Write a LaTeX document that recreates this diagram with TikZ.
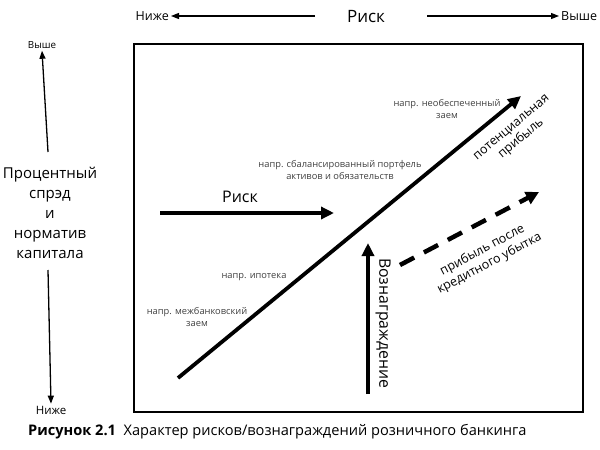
\documentclass[tikz,border=0pt]{standalone}
\usepackage{fontspec}
\setmainfont{Open Sans}
\usetikzlibrary{arrows.meta}
\begin{document}
\begin{tikzpicture}[x=1pt,y=-1pt,
  thinarr/.style={line width=1.3pt,-{Triangle[length=8pt,width=6pt]}},
  thickarr/.style={line width=3.8pt,-{Triangle[length=13pt,width=12pt]}},
  dasharr/.style={line width=4.5pt,dash pattern=on 16pt off 11pt,-{Triangle[length=13pt,width=13pt]}},
  small/.style={font=\fontsize{9.3}{12.5}\selectfont,text=black!75,align=center,inner sep=1pt},
  big/.style={font=\fontsize{15}{20}\selectfont,align=center,inner sep=1pt},
  mid/.style={font=\fontsize{12.5}{15}\selectfont,align=center,inner sep=0pt},
  tiny/.style={font=\fontsize{12.5}{13}\selectfont,inner sep=2pt}]
\useasboundingbox (0,0) rectangle (600,450);
\fill[white] (0,0) rectangle (600,450);
% top axis
\node[big,font=\fontsize{17}{18}\selectfont] (riskT) at (366,17) {Риск};
\node[tiny,anchor=east] (lowT) at (171,16) {Ниже};
\node[tiny,anchor=west] (highT) at (559,16) {Выше};
\coordinate (la) at (315,16);
\coordinate (ra) at (427,16);
\draw[thinarr] (la) -- (lowT.east);
\draw[thinarr] (ra) -- (highT.west);
% frame
\node[draw,line width=1.4pt,minimum width=449pt,minimum height=368pt,inner sep=0pt] (frame) at (358.5,228) {};
% left axis
\node[tiny,font=\fontsize{9.8}{12}\selectfont] (highL) at (42,45) {Выше};
\node[tiny,font=\fontsize{11.5}{12}\selectfont] (lowL) at (51,410) {Ниже};
\node[big] (spread) at (50,213) {Процентный\\спрэд\\и\\норматив\\капитала};
\coordinate (ua) at (48,152);
\coordinate (da) at (48,270);
\draw[thinarr] (ua) -- (highL.south);
\draw[thinarr] (da) -- (lowL.north);
% diagonal
\coordinate (d0) at (178,378);
\coordinate (d1) at (521,96);
\draw[thickarr] (d0) -- (d1);
\node[small] (n1) at (447,109) {напр. необеспеченный\\заем};
\node[small] (n2) at (340,170) {напр. сбалансированный портфель\\активов и обязательств};
\node[small] (n3) at (254,277) {напр. ипотека};
\node[small] (n4) at (197,317) {напр. межбанковский\\заем};
\node[mid,rotate=40] (pot) at (517,134) {потенциальная\\прибыль};
% risk horizontal
\node[big,font=\fontsize{16}{18}\selectfont] (riskM) at (240,197) {Риск};
\coordinate (h0) at (160,213);
\coordinate (h1) at (334,213);
\draw[thickarr] (h0) -- (h1);
% reward
\coordinate (v0) at (368,394);
\coordinate (v1) at (368,243);
\draw[thickarr] (v0) -- (v1);
\node[big,rotate=-90,font=\fontsize{15.8}{18}\selectfont] (rew) at (383,323) {Вознаграждение};
% dashed
\coordinate (s0) at (400,265);
\coordinate (s1) at (539,192);
\draw[dasharr] (s0) -- (s1);
\node[mid,rotate=28] (after) at (486,257) {прибыль после\\кредитного убытка};
% caption
\node[anchor=west,font=\fontsize{14.6}{16}\selectfont,inner sep=0pt] (cap) at (28,432) {\textbf{Рисунок 2.1}\ \ Характер рисков/вознаграждений розничного банкинга};
\end{tikzpicture}
\end{document}
